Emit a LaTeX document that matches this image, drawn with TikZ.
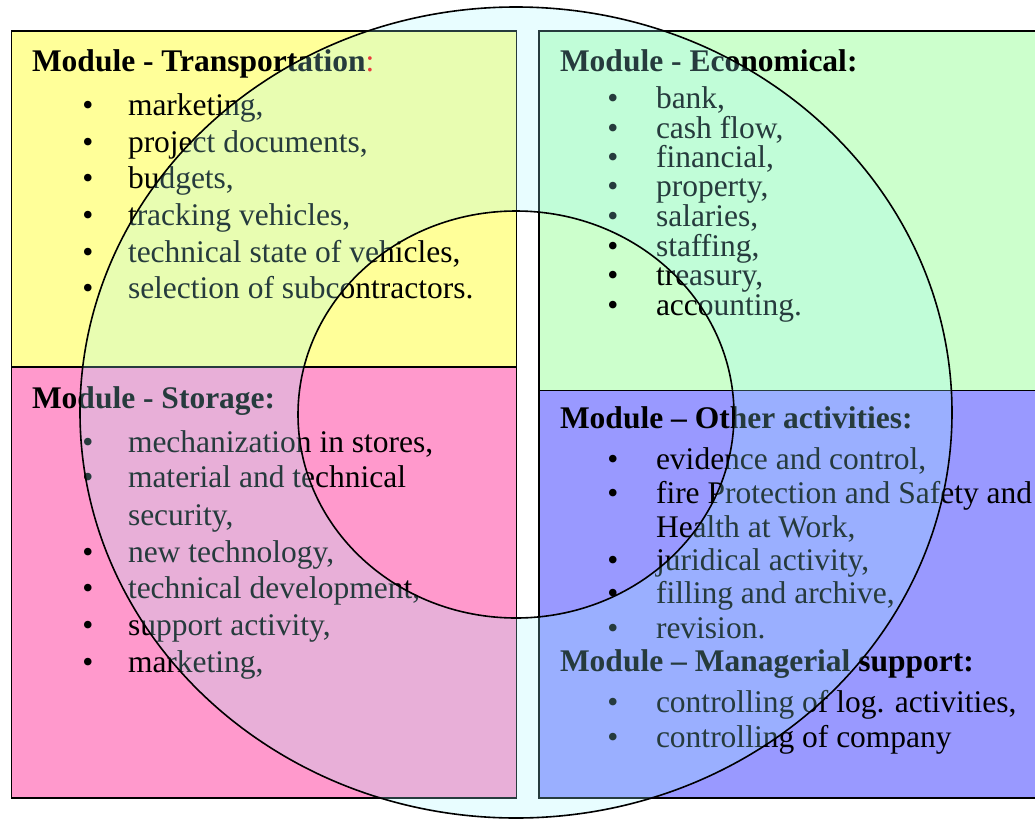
\documentclass[tikz,border=0pt]{standalone}
\usepackage{fontspec}
\setmainfont{Liberation Serif}
\definecolor{yel}{HTML}{FFFF99}
\definecolor{pnk}{HTML}{FF99CC}
\definecolor{grn}{HTML}{CCFFCC}
\definecolor{blu}{HTML}{9999FF}
\definecolor{ringc}{HTML}{A0F8FF}
\newcommand{\bulitem}[5]{%
  \node[txt] (#1) at (#3,#4) {#5};
  \node[txt,anchor=base] (#1b) at (#2,#4) {\textbullet};}
\begin{document}
\begin{tikzpicture}[x=1pt,y=-1pt,
  box/.style={draw=black,line width=1.5pt},
  txt/.style={anchor=base west,inner sep=0pt,outer sep=0pt,font=\fontsize{31.5}{36}\selectfont},
  ttl/.style={txt,font=\fontsize{31.5}{36}\selectfont\bfseries},
  ringline/.style={draw=black,line width=1.6pt}]
\useasboundingbox (0,0) rectangle (1035,819);
\fill[white] (0,0) rectangle (1035,819);
% boxes
\draw[box,fill=yel] (11.5,31) rectangle (516.5,367);
\draw[box,fill=pnk] (11.5,367) rectangle (516.5,798);
\draw[box,fill=grn] (539,31) rectangle (1036,390.5);
\draw[box,fill=blu] (539,390.5) rectangle (1036,798);
% Transportation
\node[ttl] (tT) at (32,71) {Module - Transportation\textcolor{red}{\mdseries :}};
\bulitem{t1}{88}{128}{115}{marketing,}
\bulitem{t2}{88}{128}{152}{project documents,}
\bulitem{t3}{88}{128}{188.5}{budgets,}
\bulitem{t4}{88}{128}{225}{tracking vehicles,}
\bulitem{t5}{88}{128}{262}{technical state of vehicles,}
\bulitem{t6}{88}{128}{298.5}{selection of subcontractors.}
% Storage
\node[ttl] (tS) at (32,408) {Module - Storage:};
\bulitem{s1}{88}{128}{452}{mechanization in stores,}
\bulitem{s2}{88}{128}{487.5}{material and technical}
\node[txt] (s2c) at (128,525) {security,};
\bulitem{s3}{88}{128}{562}{new technology,}
\bulitem{s4}{88}{128}{598.5}{technical development,}
\bulitem{s5}{88}{128}{635}{support activity,}
\bulitem{s6}{88}{128}{672}{marketing,}
% Economical
\node[ttl] (tE) at (560,71) {Module - Economical:};
\bulitem{e1}{613}{656}{108}{bank,}
\bulitem{e2}{613}{656}{138}{cash flow,}
\bulitem{e3}{613}{656}{167}{financial,}
\bulitem{e4}{613}{656}{196.5}{property,}
\bulitem{e5}{613}{656}{226}{salaries,}
\bulitem{e6}{613}{656}{256}{staffing,}
\bulitem{e7}{613}{656}{285}{treasury,}
\bulitem{e8}{613}{656}{315}{accounting.}
% Other activities
\node[ttl] (tO) at (560,428) {Module -- Other activities:};
\bulitem{o1}{613}{656}{469}{evidence and control,}
\bulitem{o2}{613}{656}{503}{fire Protection and Safety and}
\node[txt] (o2c) at (656,537) {Health at Work,};
\bulitem{o3}{613}{656}{570}{juridical activity,}
\bulitem{o4}{613}{656}{603}{filling and archive,}
\bulitem{o5}{613}{656}{638}{revision.}
\node[ttl] (tM) at (560,671) {Module -- Managerial support:};
\bulitem{m1}{613}{656}{712}{controlling of log. activities,}
\bulitem{m2}{613}{656}{747}{controlling of company}
% ring overlay
\fill[ringc,fill opacity=0.24,even odd rule]
  (516,412.5) ellipse [x radius=436pt,y radius=405.5pt]
  (516,414.5) ellipse [x radius=218pt,y radius=203.5pt];
\draw[ringline] (516,412.5) ellipse [x radius=436pt,y radius=405.5pt];
\draw[ringline] (516,414.5) ellipse [x radius=218pt,y radius=203.5pt];
\end{tikzpicture}
\end{document}
